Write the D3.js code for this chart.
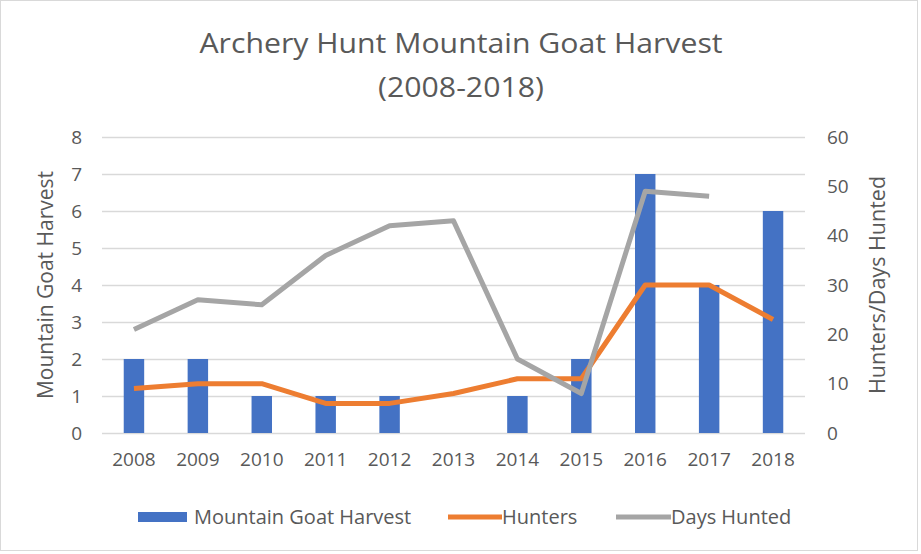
<!DOCTYPE html>
<html>
<head>
<meta charset="utf-8">
<script src="https://cdn.jsdelivr.net/npm/d3@7"></script>
<style>
  body { margin: 0; background: #fff; }
  text { font-family: "Open Sans", sans-serif; fill: #595959; }
</style>
</head>
<body>
<div id="chart"></div>
<script>
(function () {
  // data
  var years = ["2008", "2009", "2010", "2011", "2012", "2013", "2014", "2015", "2016", "2017", "2018"];
  var harvest = [2, 2, 1, 1, 1, 0, 1, 2, 7, 4, 6];
  var hunters = [9, 10, 10, 6, 6, 8, 11, 11, 30, 30, 23];
  var daysHunted = [21, 27, 26, 36, 42, 43, 15, 8, 49, 48, null];
  var leftTicks = [0, 1, 2, 3, 4, 5, 6, 7, 8];
  var rightTicks = [0, 10, 20, 30, 40, 50, 60];

  var W = 921, H = 554;
  var margin = {top: 137, right: 116, bottom: 121, left: 102},
      width = W - margin.left - margin.right,
      height = H - margin.top - margin.bottom;

  var svg = d3.select("#chart").append("svg")
      .attr("width", W)
      .attr("height", H);

  // outer border
  svg.append("rect")
      .attr("x", 0.5).attr("y", 0.5)
      .attr("width", W - 4).attr("height", H - 4)
      .attr("fill", "#fff")
      .attr("stroke", "#d9d9d9");

  // title (reference font is a bit wider, so stretch horizontally)
  var title = svg.append("g").attr("transform", "translate(461,0) scale(1.12,1)");
  title.append("text")
      .attr("x", 0).attr("y", 53)
      .attr("text-anchor", "middle")
      .style("font-size", "27px")
      .text("Archery Hunt Mountain Goat Harvest");
  title.append("text")
      .attr("x", 0).attr("y", 97)
      .attr("text-anchor", "middle")
      .style("font-size", "27px")
      .text("(2008-2018)");

  var g = svg.append("g")
      .attr("transform", "translate(" + margin.left + "," + margin.top + ")");

  var x = d3.scaleBand().domain(years).range([0, width]).paddingInner(0.68).paddingOuter(0.34);
  var y = d3.scaleLinear().domain([0, 8]).range([height, 0]);
  var y2 = d3.scaleLinear().domain([0, 60]).range([height, 0]);

  // gridlines
  g.append("g")
      .attr("class", "grid")
      .call(d3.axisLeft(y).tickValues(leftTicks).tickSize(-width).tickFormat(""))
      .call(function (s) {
        s.select(".domain").remove();
        s.selectAll("line").attr("stroke", "#d9d9d9").attr("stroke-width", 1.3);
      });

  // left axis
  g.append("g")
      .call(d3.axisLeft(y).tickValues(leftTicks).tickSize(0).tickPadding(20))
      .call(function (s) {
        s.select(".domain").remove();
        s.selectAll("text").style("font-size", "19px").attr("fill", "#595959")
          .attr("font-family", "Open Sans");
      });

  // right axis
  g.append("g")
      .attr("transform", "translate(" + width + ",0)")
      .call(d3.axisRight(y2).tickValues(rightTicks).tickSize(0).tickPadding(22))
      .call(function (s) {
        s.select(".domain").remove();
        s.selectAll("text").style("font-size", "19px").attr("fill", "#595959")
          .attr("font-family", "Open Sans");
      });

  // x axis
  g.append("g")
      .attr("transform", "translate(0," + height + ")")
      .call(d3.axisBottom(x).tickSize(0).tickPadding(20))
      .call(function (s) {
        s.select(".domain").remove();
        s.selectAll("text").style("font-size", "19px").attr("fill", "#404040")
          .attr("font-family", "Open Sans");
      });

  // bars
  g.selectAll(".bar")
      .data(harvest)
      .enter().append("rect")
      .attr("class", "bar")
      .attr("x", function (d, i) { return x(years[i]); })
      .attr("width", x.bandwidth())
      .attr("y", function (d) { return y(d); })
      .attr("height", function (d) { return height - y(d); })
      .attr("fill", "#4472C4");

  var line = d3.line()
      .defined(function (d) { return d != null; })
      .x(function (d, i) { return x(years[i]) + x.bandwidth() / 2; })
      .y(function (d) { return y2(d); });

  g.append("path")
      .datum(hunters)
      .attr("fill", "none")
      .attr("stroke", "#ED7D31")
      .attr("stroke-width", 5)
      .attr("stroke-linejoin", "round")
      .attr("d", line);

  g.append("path")
      .datum(daysHunted)
      .attr("fill", "none")
      .attr("stroke", "#A5A5A5")
      .attr("stroke-width", 5)
      .attr("stroke-linejoin", "round")
      .attr("d", line);

  // axis titles
  svg.append("text")
      .attr("transform", "translate(53," + (margin.top + height / 2) + ") rotate(-90)")
      .attr("text-anchor", "middle")
      .style("font-size", "21px")
      .text("Mountain Goat Harvest");

  svg.append("text")
      .attr("transform", "translate(885," + (margin.top + height / 2) + ") rotate(-90)")
      .attr("text-anchor", "middle")
      .style("font-size", "21.5px")
      .text("Hunters/Days Hunted");

  // legend
  var legend = svg.append("g").attr("transform", "translate(0,517)");
  legend.append("rect")
      .attr("x", 138).attr("y", -5).attr("width", 49).attr("height", 10)
      .attr("fill", "#4472C4");
  legend.append("text").attr("x", 194).attr("y", 7).style("font-size", "20px")
      .text("Mountain Goat Harvest");
  legend.append("line")
      .attr("x1", 448).attr("x2", 502).attr("y1", 0).attr("y2", 0)
      .attr("stroke", "#ED7D31").attr("stroke-width", 5);
  legend.append("text").attr("x", 502).attr("y", 7).style("font-size", "20px")
      .text("Hunters");
  legend.append("line")
      .attr("x1", 616).attr("x2", 671).attr("y1", 0).attr("y2", 0)
      .attr("stroke", "#A5A5A5").attr("stroke-width", 5);
  legend.append("text").attr("x", 671).attr("y", 7).style("font-size", "20px")
      .text("Days Hunted");
})();
</script>
</body>
</html>
